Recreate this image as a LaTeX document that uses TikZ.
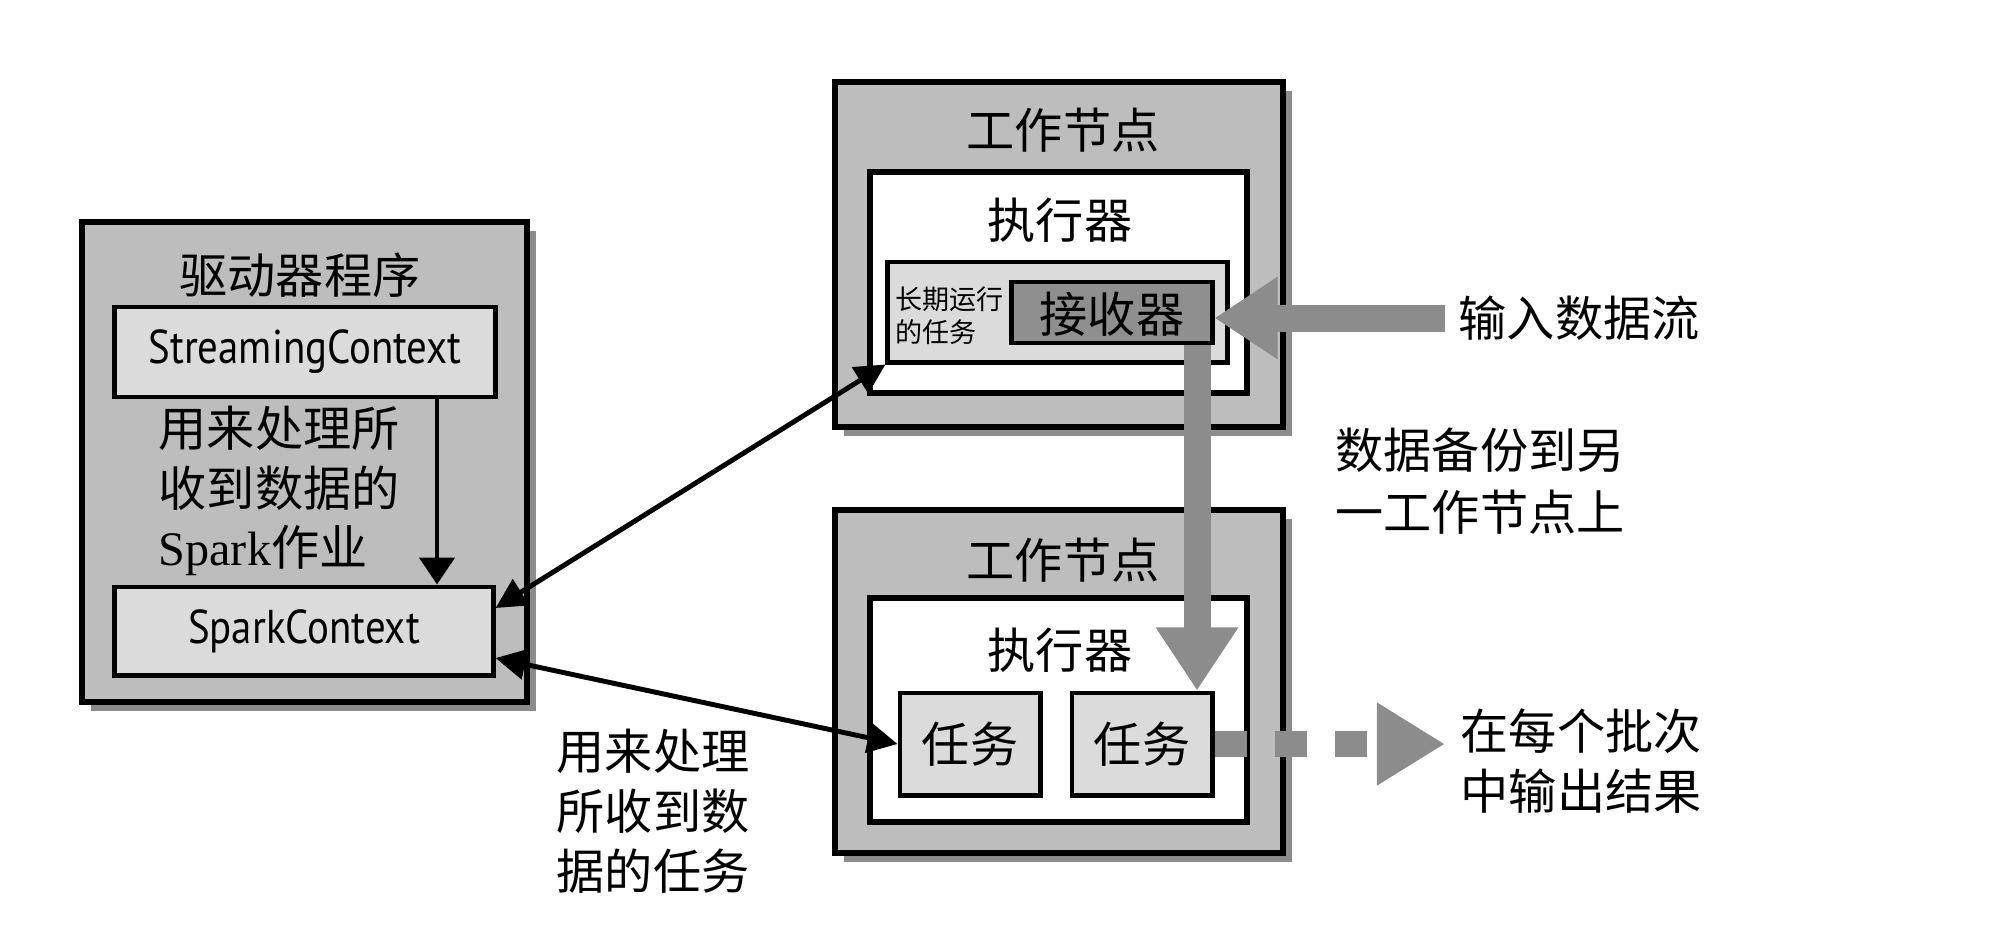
\documentclass[tikz,border=0pt]{standalone}
\usepackage{fontspec}
\setmainfont{Noto Sans CJK SC}
\newfontfamily\ctxfont{PT Sans}
\newfontfamily\spkfont{Liberation Serif}
\usetikzlibrary{arrows.meta,shadows}

\definecolor{nodegray}{gray}{0.74}
\definecolor{boxgray}{gray}{0.86}
\definecolor{rcvgray}{gray}{0.56}
\definecolor{flowgray}{gray}{0.55}

\begin{document}
\begin{tikzpicture}[
    x=0.01cm, y=-0.01cm,
    outerbox/.style={draw, line width=1.7pt, fill=nodegray, inner sep=0pt,
      drop shadow={shadow xshift=0.09cm, shadow yshift=-0.09cm, fill=black, opacity=0.45}},
    execbox/.style={draw, line width=1.5pt, fill=white, inner sep=0pt},
    innerbox/.style={draw, line width=1.4pt, fill=boxgray, inner sep=0pt},
    bigtxt/.style={font=\fontsize{13.7pt}{17pt}\selectfont, inner sep=0pt},
    sidetxt/.style={font=\fontsize{13.7pt}{17pt}\selectfont, inner sep=0pt, align=left},
    arr/.style={-{Triangle[length=0.27cm,width=0.35cm]}, line width=1.3pt},
    dbl/.style={{Triangle[length=0.3cm,width=0.3cm]}-{Triangle[length=0.3cm,width=0.3cm]}, line width=1.4pt},
    fat/.style={-{Triangle[length=0.63cm,width=0.78cm]}, line width=0.27cm, draw=flowgray},
    dashfat/.style={-{Triangle[length=0.68cm,width=0.78cm]}, line width=0.26cm, draw=flowgray,
      dash pattern=on 0.32cm off 0.28cm}
  ]
  \useasboundingbox (0,0) rectangle (2016,930);

  % driver program
  \node[outerbox, minimum width=4.45cm, minimum height=4.8cm] (drv) at (304.5,462) {};
  \node[bigtxt] (drvtitle) at (300,275) {驱动器程序};
  \node[innerbox, minimum width=3.8cm, minimum height=0.9cm] (stc) at (305,352)
    {\scalebox{0.86}[1]{\ctxfont\fontsize{13.5pt}{15pt}\selectfont StreamingContext}};
  \node[innerbox, minimum width=3.78cm, minimum height=0.88cm] (spc) at (304,631)
    {\scalebox{0.86}[1]{\ctxfont\fontsize{13.5pt}{15pt}\selectfont SparkContext}};
  \node[bigtxt, align=left, anchor=west] (jobtxt) at (158,491)
    {用来处理所\\收到数据的\\{\spkfont Spark}作业};

  % worker 1
  \node[outerbox, minimum width=4.48cm, minimum height=3.45cm] (wk1) at (1059,254.5) {};
  \node[bigtxt] (wk1title) at (1063,130) {工作节点};
  \node[execbox, minimum width=3.77cm, minimum height=2.21cm] (ex1) at (1058.5,282.5) {};
  \node[bigtxt] (ex1title) at (1060,220) {执行器};
  \node[innerbox, minimum width=3.39cm, minimum height=1cm] (lrt) at (1057.5,312) {};
  \node[inner sep=0pt, align=left, anchor=west, font=\fontsize{7.7pt}{9.4pt}\selectfont] (lrttxt) at (895,316)
    {长期运行\\的任务};
  \node[innerbox, fill=rcvgray, minimum width=2cm, minimum height=0.61cm] (rcv) at (1112,312.5) {};
  \node[bigtxt] (rcvtxt) at (1112,314) {接收器};

  % worker 2
  \node[outerbox, minimum width=4.48cm, minimum height=3.43cm] (wk2) at (1059,681.5) {};
  \node[bigtxt] (wk2title) at (1063,560) {工作节点};
  \node[execbox, minimum width=3.77cm, minimum height=2.24cm] (ex2) at (1058.5,710) {};
  \node[bigtxt] (ex2title) at (1060,650) {执行器};
  \node[innerbox, minimum width=1.4cm, minimum height=1.02cm] (tk1) at (970,744) {\fontsize{13.7pt}{17pt}\selectfont 任务};
  \node[innerbox, minimum width=1.4cm, minimum height=1.02cm] (tk2) at (1142,744) {\fontsize{13.7pt}{17pt}\selectfont 任务};

  % side labels
  \node[sidetxt, anchor=west] (intxt) at (1458,318) {输入数据流};
  \node[sidetxt, align=center, font=\fontsize{13.7pt}{17.6pt}\selectfont] (reptxt) at (1480,481) {数据备份到另\\一工作节点上};
  \node[bigtxt, align=left, anchor=west] (tasktxt) at (556,811) {用来处理\\所收到数\\据的任务};
  \node[sidetxt, anchor=west] (outtxt) at (1460,761) {在每个批次\\中输出结果};

  \coordinate (job) at (437,0);
  \coordinate (rep) at (1197,0);

  % connectors
  \draw[arr] (stc.south -| job) -- (spc.north -| job);
  \draw[dbl] ([yshift=0.23cm]spc.east) -- (lrt.south west);
  \draw[dbl] ([yshift=-0.27cm]spc.east) -- (tk1.west);
  \draw[fat] ([xshift=-0.13cm]intxt.west) -- (intxt.west -| rcv.east);
  \draw[fat] (rcv.south -| rep) -- (tk2.north -| rep);
  \draw[dashfat] (tk2.east) -- ([xshift=-0.15cm]outtxt.west |- tk2.east);
\end{tikzpicture}
\end{document}
